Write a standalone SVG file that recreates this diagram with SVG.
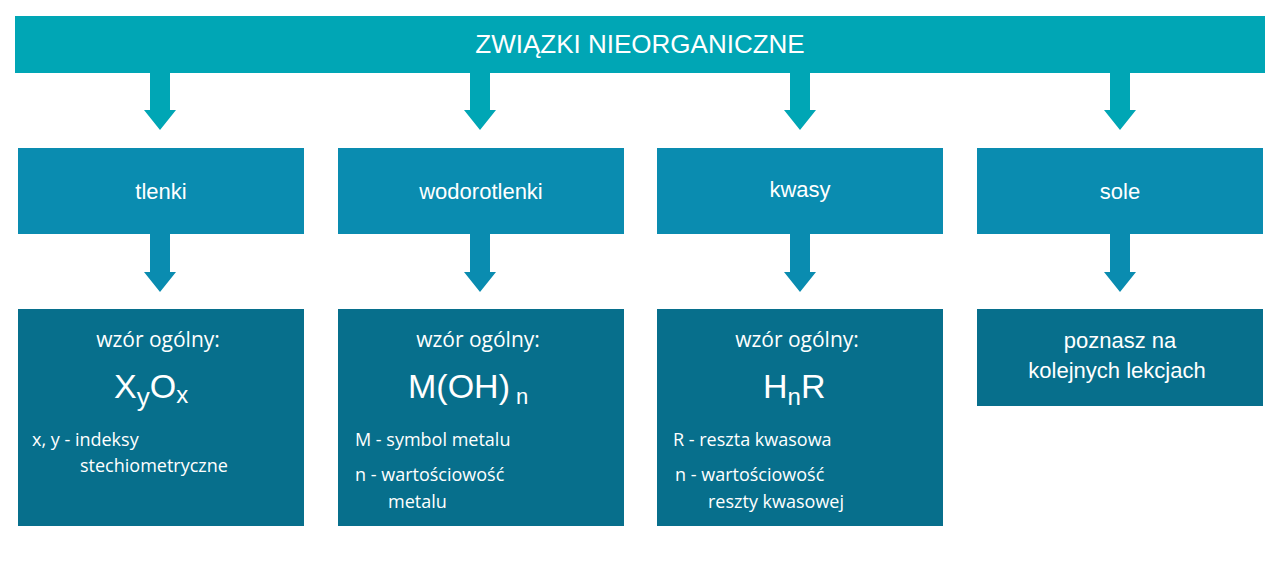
<svg xmlns="http://www.w3.org/2000/svg" width="1280" height="571" viewBox="0 0 1280 571">
<style>
text{font-family:"Open Sans","Liberation Sans",sans-serif;fill:#fff}
.t{font-family:"Liberation Sans",Arial,sans-serif}
.top{fill:#00A6B5}.mid{fill:#0A8CB0}.low{fill:#076F8C}
.am{fill:#0A8CB0}.at{fill:#00A6B5}
</style>
<rect width="1280" height="571" fill="#fff"/>
<g id="root"><rect class="top" x="15" y="16" width="1250" height="57"/><text class="t" x="640" y="53" font-size="26" text-anchor="middle">ZWIĄZKI NIEORGANICZNE</text></g>
<g id="connectors">
<path class="at" d="M150 73h20v37h6l-16 20l-16-20h6z"/>
<path class="at" d="M470 73h20v37h6l-16 20l-16-20h6z"/>
<path class="at" d="M790 73h20v37h6l-16 20l-16-20h6z"/>
<path class="at" d="M1110 73h20v37h6l-16 20l-16-20h6z"/>
<path class="am" d="M150 234h20v38h6l-16 20l-16-20h6z"/>
<path class="am" d="M470 234h20v38h6l-16 20l-16-20h6z"/>
<path class="am" d="M790 234h20v38h6l-16 20l-16-20h6z"/>
<path class="am" d="M1110 234h20v38h6l-16 20l-16-20h6z"/>
</g>
<g id="tlenki"><rect class="mid" x="18" y="148" width="286" height="86"/><text class="t" x="161" y="199" font-size="22" text-anchor="middle">tlenki</text></g>
<g id="wodorotlenki"><rect class="mid" x="338" y="148" width="286" height="86"/><text class="t" x="481" y="199" font-size="22" text-anchor="middle">wodorotlenki</text></g>
<g id="kwasy"><rect class="mid" x="657" y="148" width="286" height="86"/><text class="t" x="800" y="197" font-size="22" text-anchor="middle">kwasy</text></g>
<g id="sole"><rect class="mid" x="977" y="148" width="286" height="86"/><text class="t" x="1120" y="199" font-size="22" text-anchor="middle">sole</text></g>
<g id="tlenki-wzor"><rect class="low" x="18" y="309" width="286" height="217"/>
<text x="158" y="347" font-size="21" text-anchor="middle">wzór ogólny:</text>
<text class="t" x="114" y="398" font-size="34">X<tspan font-size="26" dy="8">y</tspan><tspan dy="-8">O</tspan><tspan font-size="24" dy="5">x</tspan></text>
<text x="32" y="446" font-size="18">x, y - indeksy</text>
<text x="80" y="472" font-size="18">stechiometryczne</text></g>
<g id="wodorotlenki-wzor"><rect class="low" x="338" y="309" width="286" height="217"/>
<text x="478" y="347" font-size="21" text-anchor="middle">wzór ogólny:</text>
<text class="t" x="408" y="398" font-size="34">M(OH)<tspan font-size="22" dx="6" dy="6">n</tspan></text>
<text x="355" y="446" font-size="18">M  - symbol metalu</text>
<text x="355" y="481" font-size="18">n - wartościowość</text>
<text x="388" y="508" font-size="18">metalu</text></g>
<g id="kwasy-wzor"><rect class="low" x="657" y="309" width="286" height="217"/>
<text x="797" y="347" font-size="21" text-anchor="middle">wzór ogólny:</text>
<text class="t" x="763" y="398" font-size="34">H<tspan font-size="24" dy="7">n</tspan><tspan dy="-7">R</tspan></text>
<text x="673" y="446" font-size="18">R - reszta kwasowa</text>
<text x="675" y="481" font-size="18">n - wartościowość</text>
<text x="708" y="508" font-size="18">reszty kwasowej</text></g>
<g id="sole-info"><rect class="low" x="977" y="309" width="286" height="97"/>
<text class="t" x="1120" y="348" font-size="22" text-anchor="middle">poznasz na</text>
<text class="t" x="1117" y="378" font-size="22" text-anchor="middle">kolejnych lekcjach</text></g>
</svg>
